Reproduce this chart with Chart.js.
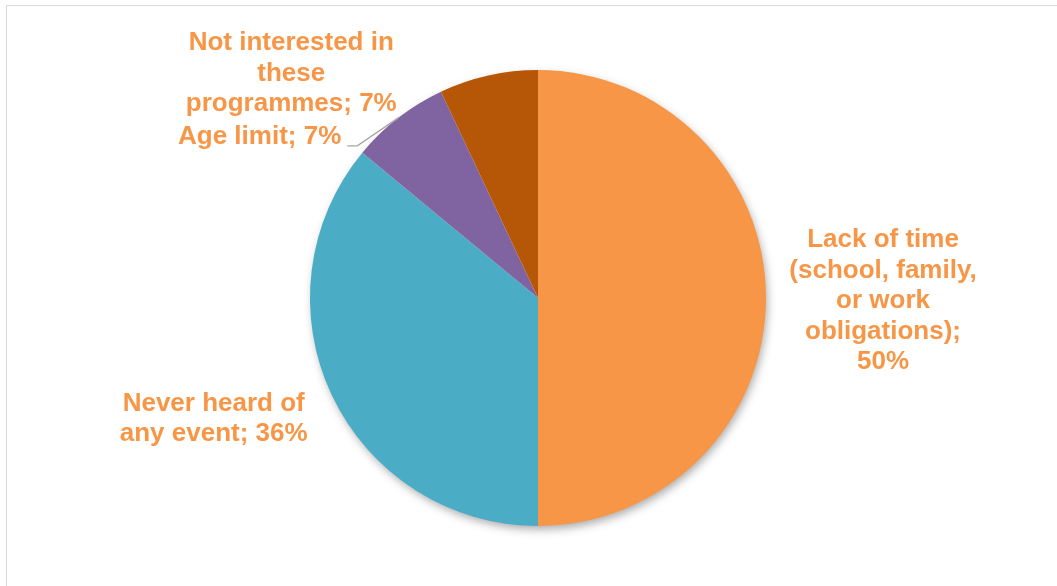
<!DOCTYPE html>
<html>
<head>
<meta charset="utf-8">
<script src="https://cdn.jsdelivr.net/npm/chart.js@4"></script>
<style>
  html, body { margin: 0; padding: 0; background: #fff; overflow: hidden; }
  #wrap { position: relative; width: 1057px; height: 586px; }
  #frame { position: absolute; left: 6px; top: 5px; width: 1060px; height: 600px; border: 1px solid #d9d9d9; box-sizing: border-box; }
  canvas { position: absolute; left: 0; top: 0; }
</style>
</head>
<body>
<div id="wrap">
  <div id="frame"></div>
  <canvas id="myChart" width="1057" height="586"></canvas>
</div>
<script>
// data
const categories = [
    'Lack of time (school, family, or work obligations)',
    'Never heard of any event',
    'Age limit',
    'Not interested in these programmes'
];
const shares = [50, 36, 7, 7];
const labelLines = [
    ['Lack of time', '(school, family,', 'or work', 'obligations);', '50%'],
    ['Never heard of', 'any event; 36%'],
    ['Age limit; 7%'],
    ['Not interested in', 'these', 'programmes; 7%']
];
const colors = ['#F79646', '#4BACC6', '#8064A2', '#B65708'];

// where each label block sits relative to the outer middle of its slice
const labelPlace = [
    { dx: 117, dy: 1, align: 'center' },
    { dx: -118, dy: 22, align: 'center' },
    { dx: -57, dy: 17, align: 'right', leader: true },
    { dx: -197, dy: -4, align: 'center' }
];

const shadowPlugin = {
    id: 'pieShadow',
    beforeDatasetsDraw(chart) {
        const arc = chart.getDatasetMeta(0).data[0];
        if (!arc) return;
        const ctx = chart.ctx;
        ctx.save();
        ctx.shadowColor = 'rgba(0,0,0,0.35)';
        ctx.shadowBlur = 10;
        ctx.shadowOffsetX = 2;
        ctx.shadowOffsetY = 4;
        ctx.fillStyle = '#fff';
        ctx.beginPath();
        ctx.arc(arc.x, arc.y, arc.outerRadius - 1, 0, Math.PI * 2);
        ctx.fill();
        ctx.restore();
    }
};

const labelPlugin = {
    id: 'sliceLabels',
    afterDatasetsDraw(chart) {
        const ctx = chart.ctx;
        const lineH = 30.5;
        ctx.save();
        ctx.font = 'bold 26px "Liberation Sans", Arial, sans-serif';
        ctx.fillStyle = '#F79646';
        ctx.textBaseline = 'middle';
        chart.getDatasetMeta(0).data.forEach((arc, i) => {
            const mid = (arc.startAngle + arc.endAngle) / 2;
            const ox = arc.x + Math.cos(mid) * arc.outerRadius;
            const oy = arc.y + Math.sin(mid) * arc.outerRadius;
            const p = labelPlace[i];
            const cx = ox + p.dx;
            const cy = oy + p.dy;
            const lines = labelLines[i];
            const y0 = cy - (lines.length - 1) * lineH / 2 + 2;
            ctx.textAlign = p.align;
            lines.forEach((t, k) => ctx.fillText(t, cx, y0 + k * lineH));
            if (p.leader) {
                ctx.strokeStyle = '#a6a6a6';
                ctx.lineWidth = 1.3;
                ctx.beginPath();
                ctx.moveTo(cx + 6, cy + 11);
                ctx.lineTo(cx + 16, cy + 11);
                ctx.lineTo(ox, oy);
                ctx.stroke();
            }
        });
        ctx.restore();
    }
};

new Chart(document.getElementById('myChart'), {
    type: 'pie',
    data: {
        labels: categories,
        datasets: [{
            data: shares,
            backgroundColor: colors,
            borderWidth: 0,
            hoverOffset: 0
        }]
    },
    options: {
        responsive: false,
        animation: false,
        layout: { padding: { left: 19, right: 0, top: 70, bottom: 60 } },
        plugins: {
            legend: { display: false },
            tooltip: { enabled: false }
        }
    },
    plugins: [shadowPlugin, labelPlugin]
});
</script>
</body>
</html>
